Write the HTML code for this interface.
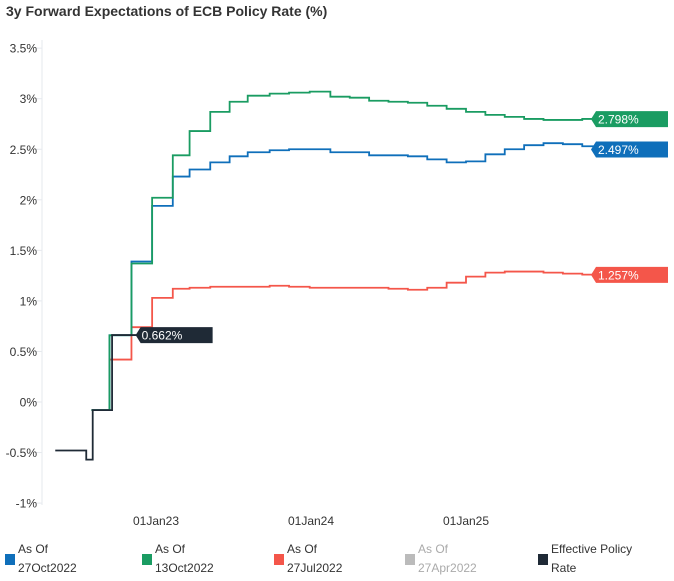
<!DOCTYPE html>
<html><head><meta charset="utf-8"><style>
body{margin:0;background:#fff;font-family:"Liberation Sans",sans-serif;}
#wrap{position:relative;width:674px;height:581px;overflow:hidden;}
.title{position:absolute;left:6px;top:3px;font-size:14px;font-weight:bold;color:#333;}
.leg{position:absolute;top:540px;font-size:12px;line-height:19px;color:#333;}
.leg .sw{position:absolute;left:-13px;top:14px;width:10px;height:11px;}
</style></head><body>
<div id="wrap">
<div class="title">3y Forward Expectations of ECB Policy Rate (%)</div>
<svg id="chart" width="674" height="530" style="position:absolute;left:0;top:0"></svg>
<div class="leg" style="left:18px"><span class="sw" style="background:#0f6fba"></span>As Of<br>27Oct2022</div>
<div class="leg" style="left:155px"><span class="sw" style="background:#1a9c62"></span>As Of<br>13Oct2022</div>
<div class="leg" style="left:287px"><span class="sw" style="background:#f4564a"></span>As Of<br>27Jul2022</div>
<div class="leg" style="left:418px;color:#aaa"><span class="sw" style="background:#bbb"></span>As Of<br>27Apr2022</div>
<div class="leg" style="left:551px"><span class="sw" style="background:#1f2a36"></span>Effective Policy<br>Rate</div>
</div>
<script>
const months=[7,8.4,10.1,11.7,13.3,14.6,16.2,17.7,19.1,20.8,22.3,23.9,25.5,27,28.5,30,31.5,33,34.5,36,37.5,39,40.5,42,43.5,45,45.9];
const green=[-0.08,0.66,1.37,2.02,2.44,2.68,2.87,2.97,3.03,3.05,3.06,3.07,3.02,3.01,2.98,2.97,2.96,2.93,2.90,2.87,2.84,2.82,2.80,2.79,2.79,2.80,2.798];
const blue=[-0.08,0.66,1.39,1.94,2.23,2.30,2.37,2.43,2.47,2.49,2.50,2.50,2.47,2.47,2.44,2.44,2.43,2.40,2.37,2.38,2.45,2.50,2.54,2.56,2.55,2.53,2.497];
const red=[-0.08,0.42,0.74,1.03,1.12,1.13,1.14,1.14,1.14,1.15,1.14,1.13,1.13,1.13,1.13,1.12,1.11,1.13,1.18,1.24,1.28,1.29,1.29,1.28,1.27,1.26,1.257];
const effMonths=[4.2,6.6,7.1,8.6,10.5];
const effVals=[-0.48,-0.57,-0.08,0.662,0.662];
const yTicks=[3.5,3,2.5,2,1.5,1,0.5,0,-0.5,-1];
const yTickLabels=["3.5%","3%","2.5%","2%","1.5%","1%","0.5%","0%","-0.5%","-1%"];
const xTicks=[12,24,36];
const xTickLabels=["01Jan23","01Jan24","01Jan25"];
const ns="http://www.w3.org/2000/svg";
const svg=document.getElementById('chart');
const X=m=>156+(m-12)*155/12;
const Y=v=>402-v*101.1;
function mk(t,a,p){const e=document.createElementNS(ns,t);for(const k in a)e.setAttribute(k,a[k]);(p||svg).appendChild(e);return e;}
const ax=mk('line',{x1:42,x2:42,y1:40,y2:505,stroke:'#e6e9ee'});


yTicks.forEach((v,i)=>{
 const t=mk('line',{x1:36,x2:42,y1:Y(v),y2:Y(v),stroke:'#e6e9ee'});
 
 
 const l=mk('text',{x:37,y:Y(v)+4.5,'text-anchor':'end','font-size':12,fill:'#333'});
 l.textContent=yTickLabels[i];
 
 
});
xTicks.forEach((m,i)=>{
 const l=mk('text',{x:X(m),y:525,'text-anchor':'middle','font-size':12,fill:'#333'});
 l.textContent=xTickLabels[i];
 
 
});
function step(ms,vs,endM){let d='M'+X(ms[0])+','+Y(vs[0]);for(let i=1;i<ms.length;i++){d+=' H'+X(ms[i])+' V'+Y(vs[i]);}if(endM)d+=' H'+X(endM);return d;}
function series(vals,color,name,label){
 const p=mk('path',{d:step(months,vals),fill:'none',stroke:color,'stroke-width':1.8});
 
 
 const y=Y(vals[vals.length-1]);
 const g=mk('g',{});
 
 
 mk('path',{d:`M591,${y} L596,${y-8} H668 V${y+8} H596 Z`,fill:color},g);
 const t=mk('text',{x:598,y:y+4.5,'font-size':12,fill:'#fff'},g);t.textContent=label;
}
series(red,'#f4564a','series-27jul2022',red[red.length-1].toFixed(3)+'%');
series(blue,'#0f6fba','series-27oct2022',blue[blue.length-1].toFixed(3)+'%');
series(green,'#1a9c62','series-13oct2022',green[green.length-1].toFixed(3)+'%');
const ep=mk('path',{d:step(effMonths,effVals),fill:'none',stroke:'#1f2a36','stroke-width':1.8});


const ey=Y(effVals[effVals.length-1]);
const ex=X(effMonths[effMonths.length-1]);
const eg=mk('g',{});


mk('path',{d:`M${ex-1},${ey} L${ex+4},${ey-8} H${ex+76} V${ey+8} H${ex+4} Z`,fill:'#1f2a36'},eg);
const et=mk('text',{x:ex+5,y:ey+4.5,'font-size':12,fill:'#fff'},eg);et.textContent=effVals[effVals.length-1].toFixed(3)+'%';
</script>
</body></html>
